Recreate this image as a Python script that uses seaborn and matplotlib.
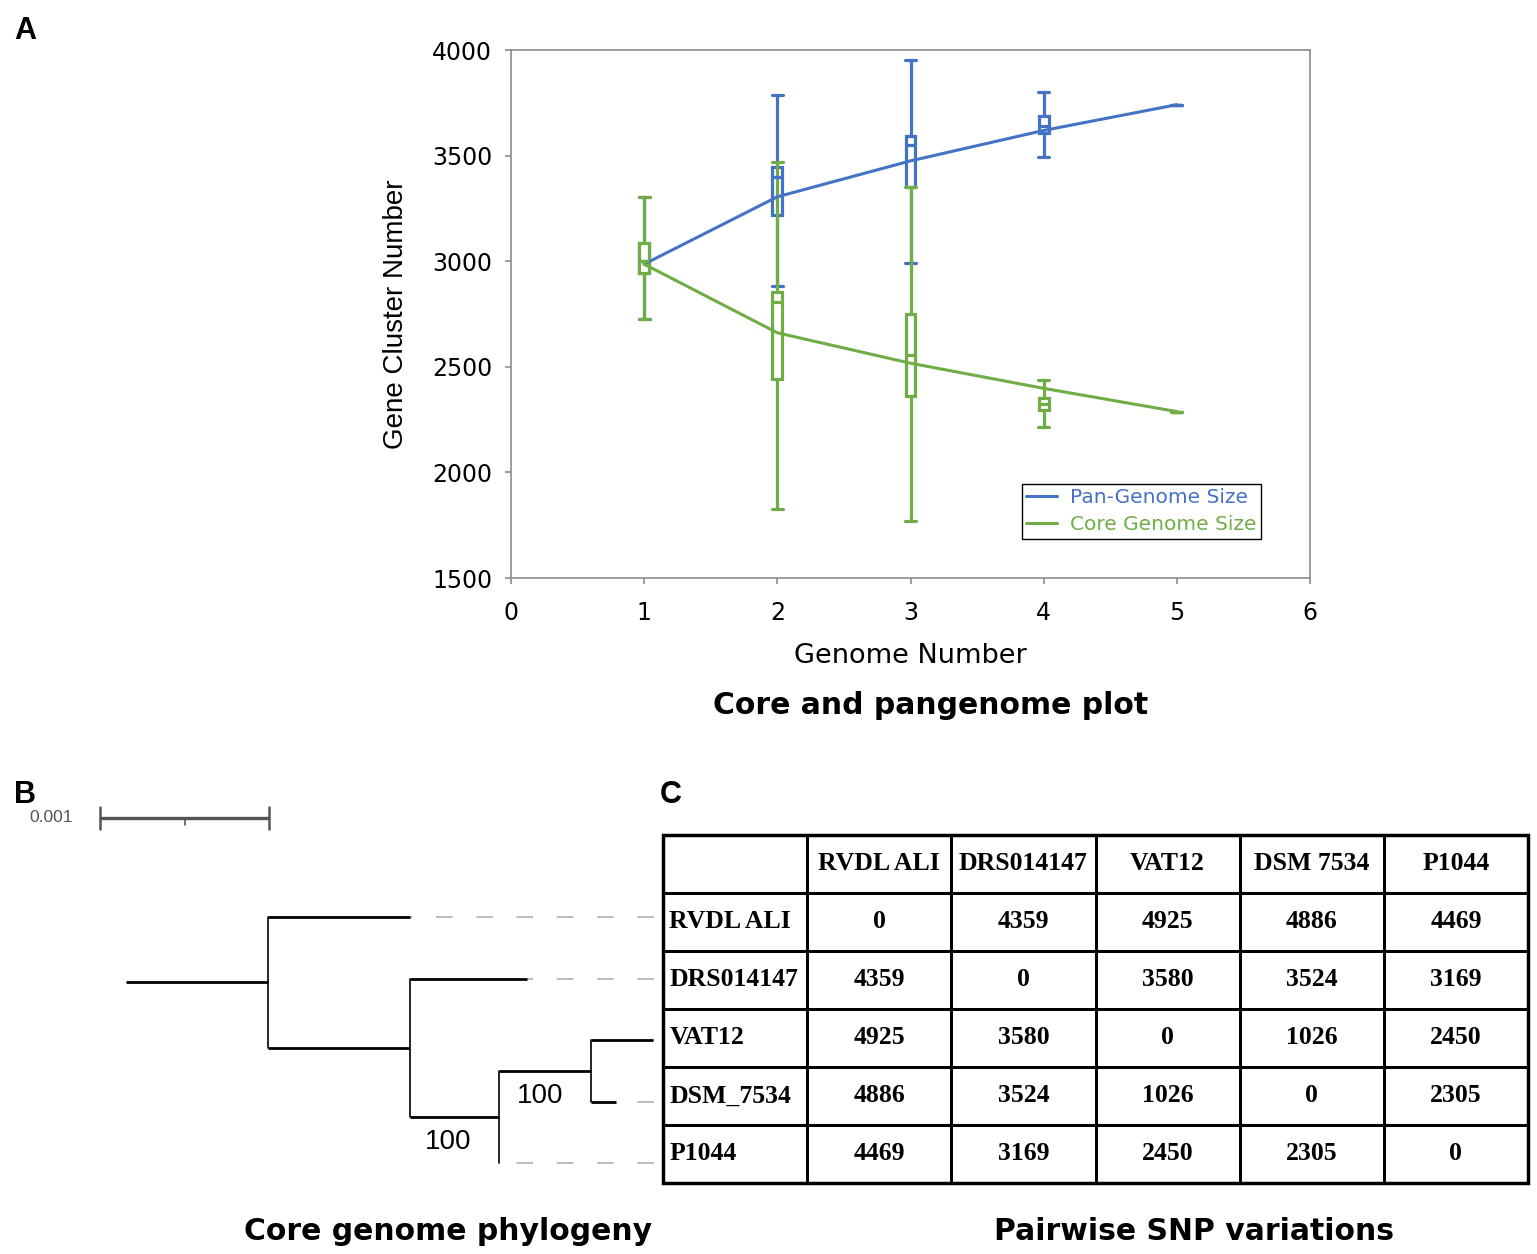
import numpy as np
import matplotlib
matplotlib.use("Agg")
import matplotlib.pyplot as plt
import seaborn as sns
from matplotlib.colors import ListedColormap
from matplotlib.patches import Rectangle
from matplotlib import font_manager

# ---- data: core / pan genome curve (panel A) ----
genomes = [1, 2, 3, 4, 5]
pan_line = [2986, 3305, 3475, 3619, 3741]
core_line = [2986, 2661, 2517, 2398, 2288]

pan_low = [2728, 2881, 2992, 3495, 3741]
pan_q1 = [2942, 3217, 3353, 3607, 3741]
pan_med = [3000, 3400, 3551, 3640, 3741]
pan_q3 = [3085, 3446, 3593, 3686, 3741]
pan_high = [3302, 3788, 3954, 3800, 3741]

core_low = [2728, 1825, 1768, 2215, 2288]
core_q1 = [2942, 2441, 2361, 2297, 2288]
core_med = [3000, 2805, 2556, 2325, 2288]
core_q3 = [3085, 2852, 2751, 2351, 2288]
core_high = [3302, 3469, 3353, 2436, 2288]

# ---- data: core genome tree (panel B), branch lengths in subs/site ----
tip_order = ['RVDL ALI', 'DRS014147', 'VAT12', 'DSM_7534', 'P1044']
# (content, branch length, bootstrap)
tree = ([
    ('RVDL ALI', 0.00084),
    ([
        ('DRS014147', 0.00069),
        ([
            ([('VAT12', 0.00037), ('DSM_7534', 0.00015)], 0.00054, 100),
            ('P1044', 0.0),
        ], 0.00053, 100),
    ], 0.00084),
], 0.00084)
scale_len = 0.001

# ---- data: pairwise SNP table (panel C) ----
col_names = ['RVDL ALI', 'DRS014147', 'VAT12', 'DSM 7534', 'P1044']
row_names = ['RVDL ALI', 'DRS014147', 'VAT12', 'DSM_7534', 'P1044']
snp = [[0, 4359, 4925, 4886, 4469],
       [4359, 0, 3580, 3524, 3169],
       [4925, 3580, 0, 1026, 2450],
       [4886, 3524, 1026, 0, 2305],
       [4469, 3169, 2450, 2305, 0]]

blue = '#4472C4'
green = '#70AD47'

sns.set_style("white")
plt.rcParams['font.family'] = ['DejaVu Sans']
plt.rcParams['lines.scale_dashes'] = False
for k in ['text.color', 'axes.labelcolor', 'xtick.labelcolor', 'ytick.labelcolor']:
    plt.rcParams[k] = 'black'

names = {f.name for f in font_manager.fontManager.ttflist}
narrow = 'Liberation Sans Narrow' if 'Liberation Sans Narrow' in names else 'Liberation Sans'

W, H = 1537, 1254
fig = plt.figure(figsize=(W / 100, H / 100), dpi=100)


def px_axes(x0, y0, x1, y1):
    return fig.add_axes([x0 / W, 1 - y1 / H, (x1 - x0) / W, (y1 - y0) / H])


# ================= panel A =================
ax = px_axes(511, 50, 1310, 578)


def make_stats(low, q1, med, q3, high):
    return [dict(whislo=a, q1=b, med=c, q3=d, whishi=e, fliers=[])
            for a, b, c, d, e in zip(low, q1, med, q3, high)]


for stats, col in [(make_stats(pan_low, pan_q1, pan_med, pan_q3, pan_high), blue),
                   (make_stats(core_low, core_q1, core_med, core_q3, core_high), green)]:
    ax.bxp(stats, positions=genomes, widths=0.075, capwidths=0.085,
           patch_artist=True, showfliers=False, manage_ticks=False,
           boxprops=dict(facecolor='white', edgecolor=col, linewidth=2.3),
           whiskerprops=dict(color=col, linewidth=2.3),
           capprops=dict(color=col, linewidth=2.3),
           medianprops=dict(color=col, linewidth=2.3))

sns.lineplot(x=genomes, y=pan_line, color=blue, linewidth=2.2, ax=ax, label='Pan-Genome Size')
sns.lineplot(x=genomes, y=core_line, color=green, linewidth=2.2, ax=ax, label='Core Genome Size')

ax.set_xlim(0, 6)
ax.set_ylim(1500, 4000)
ax.set_xticks(range(0, 7))
ax.set_yticks(range(1500, 4001, 500))
for sp in ax.spines.values():
    sp.set_visible(True)
    sp.set_color('#8c8c8c')
    sp.set_linewidth(1.2)
ax.tick_params(axis='both', direction='out', length=4.5, width=1.2, color='#8c8c8c',
               labelsize=17, bottom=True, left=True)
ax.tick_params(axis='x', pad=12)
ax.tick_params(axis='y', pad=9)
ax.set_xlabel('Genome Number', fontsize=19.5)
ax.set_ylabel('Gene Cluster Number', fontsize=20, family='Liberation Sans')
ax.xaxis.set_label_coords(0.5, -0.124)
ax.yaxis.set_label_coords(-0.128, 0.5)

leg = ax.legend(loc='lower left', bbox_to_anchor=(0.6395, 0.074), borderaxespad=0,
                frameon=True, fancybox=False, framealpha=1, edgecolor='black',
                fontsize=14.5, labelcolor='linecolor', handlelength=1.5,
                handletextpad=0.65, borderpad=0.22, labelspacing=0.4)
leg.get_frame().set_linewidth(1.0)

fig.text(931 / W, 1 - 706 / H, 'Core and pangenome plot', ha='center', va='center',
         fontsize=21.5, fontweight='bold')

# ================= panel B =================
axt = px_axes(0, 790, 660, 1190)
x_px = 169 / scale_len          # pixels per unit branch length
y_px = 61.5                     # pixels per tip
axt.set_xlim(-126 / x_px, 534 / x_px)
axt.set_ylim((1190 - 917) / y_px, (790 - 917) / y_px)
axt.axis('off')
guide_end = 528 / x_px

tip_y = {n: i for i, n in enumerate(tip_order)}


def draw_clade(clade, x0):
    content, length = clade[0], clade[1]
    x1 = x0 + length
    if isinstance(content, str):
        y = tip_y[content]
        if guide_end - x1 > 1e-6:
            axt.plot([guide_end, x1], [y, y], color='#aaaaaa', lw=1.1,
                     linestyle=(0, (12, 17)), solid_capstyle='butt')
    else:
        ys = [draw_clade(c, x1) for c in content]
        y = (min(ys) + max(ys)) / 2
        axt.plot([x1, x1], [min(ys), max(ys)], color='black', lw=1.2)
        if len(clade) > 2:
            axt.annotate(str(clade[2]), (x1, y), xytext=(-20, -9), textcoords='offset points',
                         ha='right', va='top', fontsize=20, family=[narrow, 'DejaVu Sans'])
    axt.plot([x0, x1], [y, y], color='black', lw=2.0, solid_capstyle='butt')
    return y


draw_clade(tree, 0.0)

# scale bar
sb_y = (818 - 917) / y_px
sb_x0 = -26 / x_px
axt.plot([sb_x0, sb_x0 + scale_len], [sb_y, sb_y], color='#555555', lw=2.4, solid_capstyle='butt')
for xx in [sb_x0, sb_x0 + scale_len]:
    axt.plot([xx, xx], [sb_y - 0.18, sb_y + 0.18], color='#555555', lw=1.8)
axt.plot([sb_x0 + scale_len / 2] * 2, [sb_y, sb_y + 0.11], color='#555555', lw=1.2)
axt.text(sb_x0 - 27 / x_px, sb_y, f'{scale_len:g}', ha='right', va='center', color='#555555',
         fontsize=12.5, family=[narrow, 'DejaVu Sans'])

fig.text(448 / W, 1 - 1232 / H, 'Core genome phylogeny', ha='center', va='center',
         fontsize=21.5, fontweight='bold')

# ================= panel C =================
axc = px_axes(663, 835, 1528, 1183)
n = len(col_names) + 1
annot = np.full((n, n), '', dtype=object)
annot[0, 1:] = col_names
for i, row in enumerate(snp):
    annot[i + 1, 1:] = [str(v) for v in row]
sns.heatmap(np.zeros((n, n)), ax=axc, cmap=ListedColormap(['white']), vmin=0, vmax=1,
            cbar=False, linewidths=1.9, linecolor='black', annot=annot, fmt='',
            xticklabels=False, yticklabels=False,
            annot_kws=dict(fontsize=18.5, fontweight='bold', family='Liberation Serif', color='black'))
axc.collections[0].set_clip_on(False)
for i, name in enumerate(row_names):
    axc.text(0.045, i + 1.5, name, ha='left', va='center', fontsize=18.5,
             fontweight='bold', family='Liberation Serif')
axc.add_patch(Rectangle((0, 0), n, n, fill=False, lw=2.5, edgecolor='black', clip_on=False))

fig.text(1194 / W, 1 - 1232 / H, 'Pairwise SNP variations', ha='center', va='center',
         fontsize=21.5, fontweight='bold')

# panel letters
for lbl, x, y in [('A', 14, 16), ('B', 14, 780), ('C', 660, 780)]:
    fig.text(x / W, 1 - y / H, lbl, ha='left', va='top', fontsize=22,
             fontweight='bold', family='Liberation Sans')

fig.savefig('out.png', dpi=100)
